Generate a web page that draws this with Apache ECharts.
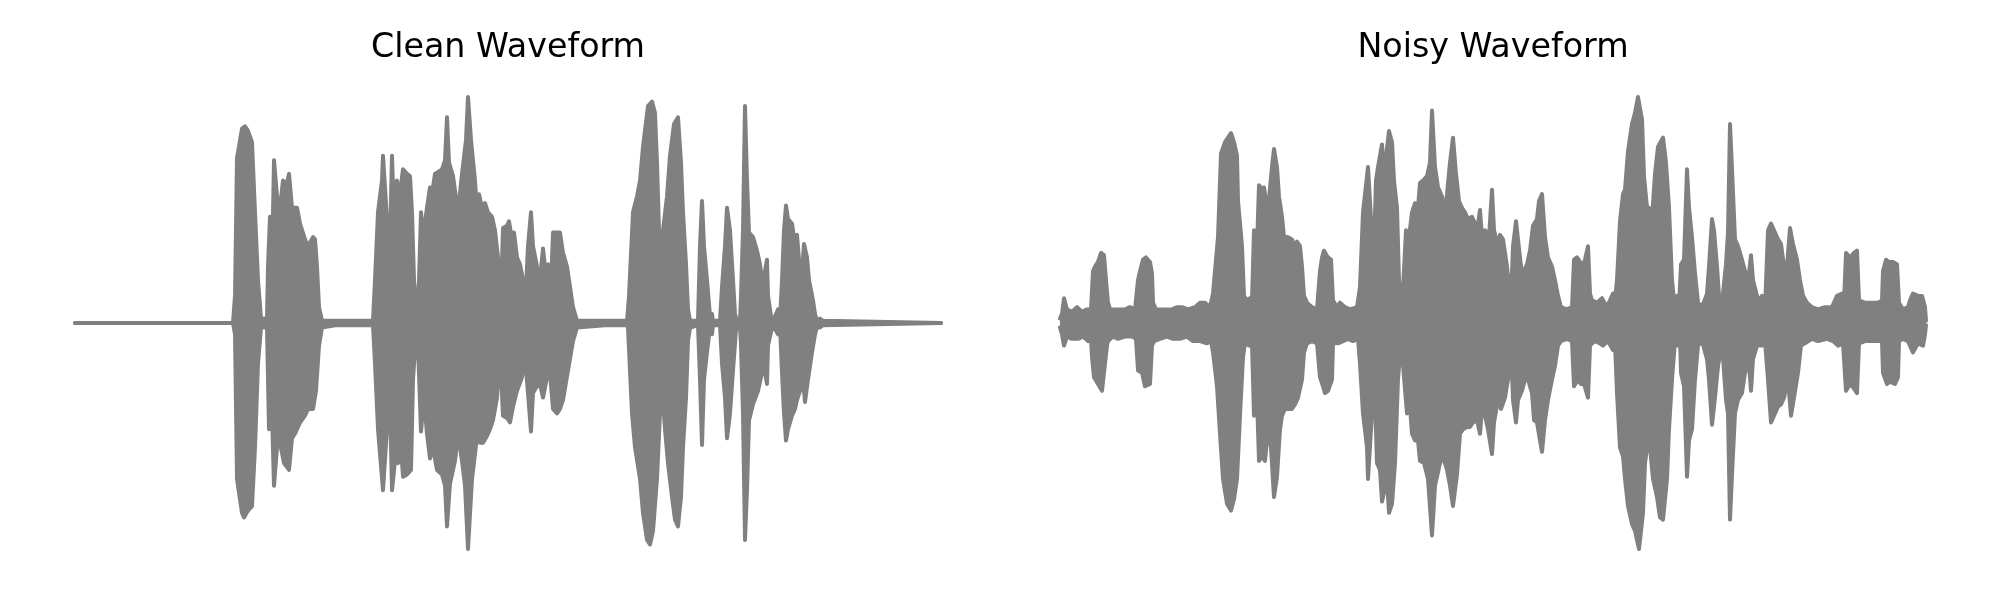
<!DOCTYPE html>
<html>
<head>
<meta charset="utf-8">
<script src="https://cdn.jsdelivr.net/npm/echarts@6/dist/echarts.min.js"></script>
<style>
html,body{margin:0;padding:0;background:#fff;}
#chart{width:2000px;height:600px;}
</style>
</head>
<body>
<div id="chart"></div>
<script>
// Envelope of each waveform: [time (s), amplitude] pairs
const titles = ['Clean Waveform', 'Noisy Waveform'];

const cleanUpper = [[0,0],[1.58,0],[1.60,0.12],[1.62,0.73],[1.67,0.86],[1.70,0.87],[1.73,0.85],[1.77,0.80],[1.80,0.49],[1.83,0.19],[1.86,0.02],[1.92,0.02],[1.93,0.25],[1.95,0.47],[1.97,0.25],[1.99,0.72],[2.02,0.56],[2.05,0.51],[2.08,0.63],[2.12,0.62],[2.14,0.66],[2.17,0.51],[2.22,0.51],[2.25,0.44],[2.30,0.37],[2.33,0.34],[2.38,0.38],[2.40,0.37],[2.42,0.25],[2.44,0.07],[2.47,0.01],[2.60,0.01],[2.80,0.01],[2.98,0.01],[3.00,0.19],[3.03,0.49],[3.07,0.63],[3.08,0.74],[3.12,0.46],[3.14,0.16],[3.17,0.74],[3.18,0.60],[3.22,0.63],[3.24,0.54],[3.28,0.68],[3.32,0.66],[3.35,0.65],[3.37,0.49],[3.39,0.19],[3.42,0.01],[3.44,0.19],[3.46,0.49],[3.48,0.38],[3.52,0.51],[3.55,0.60],[3.57,0.57],[3.60,0.66],[3.67,0.68],[3.70,0.72],[3.72,0.91],[3.74,0.71],[3.78,0.65],[3.83,0.49],[3.87,0.66],[3.91,0.81],[3.93,1.00],[3.96,0.81],[4.00,0.63],[4.02,0.50],[4.04,0.57],[4.07,0.51],[4.10,0.53],[4.13,0.49],[4.17,0.47],[4.20,0.41],[4.23,0.29],[4.26,0.13],[4.28,0.42],[4.32,0.43],[4.34,0.45],[4.37,0.37],[4.39,0.40],[4.42,0.29],[4.45,0.26],[4.48,0.19],[4.51,0.16],[4.53,0.34],[4.56,0.49],[4.58,0.34],[4.62,0.25],[4.65,0.19],[4.68,0.33],[4.70,0.25],[4.73,0.26],[4.76,0.16],[4.78,0.40],[4.82,0.40],[4.85,0.40],[4.88,0.31],[4.92,0.25],[4.95,0.16],[4.98,0.07],[5.02,0.01],[5.30,0.01],[5.52,0.01],[5.53,0.06],[5.54,0.12],[5.58,0.49],[5.62,0.56],[5.65,0.63],[5.68,0.78],[5.73,0.96],[5.77,0.98],[5.80,0.93],[5.82,0.71],[5.84,0.41],[5.87,0.28],[5.88,0.41],[5.92,0.56],[5.95,0.74],[5.99,0.88],[6.03,0.91],[6.06,0.71],[6.08,0.49],[6.11,0.26],[6.13,0.06],[6.15,0.01],[6.23,0.01],[6.25,0.34],[6.27,0.54],[6.29,0.34],[6.32,0.19],[6.35,0.03],[6.37,0.04],[6.38,0.01],[6.45,0.01],[6.47,0.16],[6.50,0.34],[6.52,0.51],[6.55,0.41],[6.58,0.19],[6.60,0.04],[6.62,0.01],[6.65,0.01],[6.66,0.12],[6.68,0.41],[6.70,0.96],[6.72,0.63],[6.74,0.40],[6.78,0.38],[6.82,0.32],[6.85,0.26],[6.88,0.16],[6.90,0.23],[6.92,0.28],[6.93,0.12],[6.96,0.03],[6.98,0.01],[7.03,0.06],[7.05,0.01],[7.07,0.19],[7.09,0.41],[7.11,0.52],[7.13,0.46],[7.17,0.44],[7.19,0.38],[7.22,0.39],[7.24,0.28],[7.27,0.22],[7.29,0.35],[7.32,0.29],[7.34,0.19],[7.38,0.10],[7.40,0.04],[7.42,0.01],[7.45,0.02],[7.48,0.01],[8.66,0]];

const cleanLower = [[0,0],[1.58,0],[1.60,-0.05],[1.62,-0.69],[1.67,-0.84],[1.69,-0.86],[1.73,-0.83],[1.77,-0.81],[1.80,-0.55],[1.83,-0.18],[1.86,-0.02],[1.92,-0.02],[1.94,-0.47],[1.97,-0.40],[1.99,-0.72],[2.02,-0.55],[2.05,-0.53],[2.09,-0.62],[2.14,-0.65],[2.17,-0.51],[2.20,-0.49],[2.25,-0.44],[2.30,-0.41],[2.33,-0.38],[2.38,-0.38],[2.41,-0.30],[2.44,-0.10],[2.47,-0.02],[2.60,-0.01],[2.80,-0.01],[2.98,-0.01],[3.00,-0.18],[3.03,-0.47],[3.08,-0.74],[3.12,-0.47],[3.14,-0.15],[3.17,-0.74],[3.20,-0.61],[3.23,-0.62],[3.26,-0.55],[3.28,-0.68],[3.32,-0.67],[3.36,-0.65],[3.38,-0.25],[3.41,-0.05],[3.43,-0.10],[3.46,-0.48],[3.49,-0.33],[3.52,-0.49],[3.55,-0.60],[3.58,-0.55],[3.62,-0.65],[3.67,-0.67],[3.70,-0.72],[3.72,-0.90],[3.75,-0.71],[3.80,-0.61],[3.83,-0.49],[3.87,-0.61],[3.90,-0.72],[3.93,-1.00],[3.97,-0.69],[4.00,-0.58],[4.02,-0.50],[4.05,-0.53],[4.08,-0.53],[4.12,-0.50],[4.15,-0.47],[4.18,-0.43],[4.22,-0.33],[4.25,-0.13],[4.28,-0.41],[4.32,-0.42],[4.35,-0.44],[4.38,-0.37],[4.42,-0.30],[4.47,-0.24],[4.50,-0.15],[4.53,-0.31],[4.56,-0.48],[4.58,-0.31],[4.62,-0.28],[4.65,-0.27],[4.68,-0.33],[4.72,-0.24],[4.75,-0.22],[4.78,-0.38],[4.82,-0.40],[4.85,-0.38],[4.88,-0.34],[4.93,-0.21],[4.98,-0.08],[5.02,-0.02],[5.30,-0.01],[5.52,-0.01],[5.53,-0.02],[5.57,-0.40],[5.60,-0.55],[5.65,-0.69],[5.68,-0.84],[5.72,-0.96],[5.75,-0.98],[5.78,-0.92],[5.82,-0.69],[5.85,-0.40],[5.87,-0.28],[5.90,-0.47],[5.93,-0.62],[5.97,-0.77],[6.00,-0.87],[6.03,-0.90],[6.06,-0.77],[6.08,-0.55],[6.11,-0.33],[6.13,-0.08],[6.15,-0.02],[6.23,-0.01],[6.25,-0.25],[6.27,-0.54],[6.29,-0.25],[6.32,-0.13],[6.35,-0.02],[6.37,-0.05],[6.38,-0.01],[6.45,-0.01],[6.47,-0.18],[6.50,-0.33],[6.52,-0.51],[6.55,-0.40],[6.58,-0.21],[6.61,-0.03],[6.65,-0.01],[6.66,-0.10],[6.68,-0.40],[6.70,-0.96],[6.72,-0.74],[6.74,-0.43],[6.78,-0.36],[6.83,-0.30],[6.87,-0.22],[6.89,-0.19],[6.92,-0.27],[6.93,-0.10],[6.97,-0.02],[6.98,-0.01],[7.03,-0.05],[7.05,-0.01],[7.07,-0.22],[7.09,-0.40],[7.11,-0.52],[7.13,-0.47],[7.17,-0.41],[7.20,-0.38],[7.22,-0.34],[7.25,-0.30],[7.28,-0.25],[7.30,-0.35],[7.33,-0.25],[7.37,-0.13],[7.40,-0.05],[7.42,-0.02],[7.45,-0.02],[7.48,-0.01],[8.66,0]];

const noisyUpper = [[0,0.02],[0.02,0.04],[0.04,0.11],[0.07,0.06],[0.12,0.05],[0.17,0.07],[0.22,0.05],[0.27,0.06],[0.31,0.06],[0.33,0.23],[0.35,0.25],[0.38,0.27],[0.41,0.31],[0.44,0.30],[0.46,0.19],[0.48,0.09],[0.50,0.06],[0.55,0.06],[0.60,0.06],[0.65,0.06],[0.70,0.07],[0.75,0.06],[0.78,0.19],[0.80,0.23],[0.83,0.28],[0.86,0.29],[0.90,0.27],[0.92,0.22],[0.93,0.09],[0.96,0.06],[1.00,0.06],[1.05,0.06],[1.12,0.06],[1.17,0.07],[1.22,0.07],[1.28,0.06],[1.35,0.07],[1.40,0.09],[1.45,0.09],[1.50,0.07],[1.53,0.13],[1.56,0.28],[1.58,0.38],[1.61,0.75],[1.65,0.80],[1.68,0.82],[1.71,0.84],[1.74,0.80],[1.77,0.74],[1.78,0.54],[1.82,0.34],[1.84,0.12],[1.87,0.10],[1.90,0.11],[1.92,0.10],[1.94,0.41],[1.97,0.34],[1.99,0.61],[2.02,0.59],[2.04,0.60],[2.07,0.51],[2.09,0.55],[2.12,0.69],[2.14,0.77],[2.17,0.69],[2.19,0.56],[2.22,0.47],[2.24,0.38],[2.28,0.38],[2.32,0.37],[2.34,0.34],[2.37,0.36],[2.40,0.34],[2.42,0.25],[2.44,0.12],[2.47,0.09],[2.52,0.07],[2.57,0.06],[2.60,0.23],[2.62,0.29],[2.64,0.32],[2.68,0.29],[2.71,0.28],[2.73,0.10],[2.77,0.07],[2.80,0.09],[2.85,0.07],[2.90,0.06],[2.97,0.07],[3.00,0.16],[3.03,0.49],[3.07,0.65],[3.08,0.69],[3.11,0.46],[3.13,0.19],[3.16,0.63],[3.18,0.69],[3.22,0.79],[3.24,0.66],[3.29,0.85],[3.32,0.80],[3.34,0.63],[3.37,0.51],[3.39,0.19],[3.42,0.06],[3.43,0.06],[3.46,0.41],[3.48,0.34],[3.52,0.49],[3.55,0.53],[3.58,0.51],[3.60,0.62],[3.63,0.63],[3.67,0.65],[3.70,0.71],[3.72,0.94],[3.75,0.69],[3.78,0.60],[3.82,0.56],[3.84,0.47],[3.87,0.57],[3.90,0.71],[3.93,0.82],[3.96,0.66],[3.99,0.54],[4.02,0.51],[4.05,0.49],[4.08,0.46],[4.12,0.47],[4.15,0.44],[4.18,0.44],[4.20,0.50],[4.22,0.38],[4.25,0.41],[4.29,0.38],[4.32,0.59],[4.34,0.41],[4.38,0.34],[4.40,0.39],[4.43,0.37],[4.47,0.25],[4.49,0.16],[4.52,0.22],[4.53,0.34],[4.56,0.45],[4.58,0.37],[4.61,0.25],[4.63,0.22],[4.67,0.26],[4.70,0.32],[4.73,0.43],[4.77,0.46],[4.79,0.54],[4.82,0.57],[4.85,0.38],[4.88,0.29],[4.92,0.25],[4.95,0.19],[4.98,0.12],[5.01,0.07],[5.07,0.06],[5.12,0.07],[5.14,0.28],[5.17,0.29],[5.20,0.27],[5.22,0.25],[5.25,0.28],[5.28,0.34],[5.30,0.13],[5.32,0.10],[5.37,0.09],[5.42,0.11],[5.47,0.07],[5.50,0.10],[5.53,0.13],[5.55,0.10],[5.57,0.19],[5.60,0.45],[5.63,0.57],[5.65,0.59],[5.68,0.76],[5.72,0.88],[5.75,0.93],[5.78,1.00],[5.82,0.90],[5.84,0.65],[5.87,0.51],[5.88,0.40],[5.89,0.51],[5.92,0.46],[5.95,0.66],[5.98,0.78],[6.03,0.82],[6.06,0.71],[6.09,0.51],[6.12,0.19],[6.14,0.10],[6.17,0.12],[6.19,0.07],[6.21,0.26],[6.24,0.28],[6.27,0.68],[6.29,0.51],[6.32,0.38],[6.35,0.22],[6.38,0.09],[6.42,0.07],[6.47,0.13],[6.49,0.25],[6.52,0.46],[6.54,0.41],[6.57,0.25],[6.59,0.12],[6.62,0.09],[6.66,0.26],[6.68,0.40],[6.70,0.88],[6.72,0.68],[6.75,0.37],[6.78,0.34],[6.82,0.28],[6.85,0.23],[6.88,0.18],[6.91,0.30],[6.93,0.19],[6.97,0.12],[7.00,0.10],[7.02,0.12],[7.05,0.06],[7.08,0.41],[7.11,0.44],[7.14,0.41],[7.18,0.37],[7.21,0.35],[7.24,0.25],[7.27,0.25],[7.30,0.42],[7.33,0.35],[7.37,0.28],[7.40,0.19],[7.43,0.12],[7.47,0.09],[7.52,0.07],[7.58,0.06],[7.65,0.07],[7.72,0.07],[7.77,0.12],[7.82,0.13],[7.84,0.09],[7.86,0.31],[7.90,0.29],[7.94,0.31],[7.97,0.32],[7.99,0.10],[8.05,0.09],[8.12,0.09],[8.18,0.09],[8.22,0.10],[8.23,0.23],[8.26,0.28],[8.29,0.27],[8.33,0.27],[8.37,0.26],[8.39,0.09],[8.43,0.06],[8.48,0.07],[8.50,0.10],[8.53,0.13],[8.58,0.12],[8.62,0.12],[8.65,0.07],[8.66,0.01]];

const noisyLower = [[0,-0.02],[0.02,-0.05],[0.04,-0.10],[0.07,-0.06],[0.12,-0.07],[0.18,-0.07],[0.23,-0.06],[0.28,-0.08],[0.31,-0.07],[0.32,-0.15],[0.34,-0.24],[0.38,-0.27],[0.42,-0.30],[0.44,-0.30],[0.47,-0.10],[0.48,-0.08],[0.53,-0.06],[0.58,-0.07],[0.65,-0.06],[0.72,-0.06],[0.76,-0.07],[0.78,-0.21],[0.82,-0.22],[0.85,-0.28],[0.90,-0.27],[0.92,-0.10],[0.94,-0.08],[1.00,-0.07],[1.07,-0.06],[1.13,-0.07],[1.20,-0.07],[1.27,-0.06],[1.33,-0.08],[1.40,-0.08],[1.47,-0.09],[1.51,-0.08],[1.53,-0.13],[1.57,-0.28],[1.60,-0.49],[1.63,-0.69],[1.67,-0.80],[1.71,-0.83],[1.74,-0.78],[1.77,-0.69],[1.80,-0.41],[1.83,-0.15],[1.85,-0.09],[1.89,-0.10],[1.92,-0.09],[1.94,-0.41],[1.97,-0.33],[1.99,-0.61],[2.02,-0.59],[2.05,-0.61],[2.08,-0.47],[2.11,-0.55],[2.14,-0.77],[2.17,-0.68],[2.20,-0.47],[2.22,-0.41],[2.25,-0.38],[2.28,-0.38],[2.32,-0.38],[2.35,-0.36],[2.38,-0.33],[2.42,-0.25],[2.44,-0.13],[2.47,-0.09],[2.52,-0.08],[2.57,-0.09],[2.60,-0.24],[2.63,-0.28],[2.65,-0.31],[2.68,-0.30],[2.72,-0.25],[2.73,-0.09],[2.78,-0.09],[2.83,-0.08],[2.88,-0.07],[2.93,-0.08],[2.98,-0.07],[3.00,-0.18],[3.03,-0.40],[3.07,-0.55],[3.08,-0.69],[3.12,-0.40],[3.14,-0.19],[3.17,-0.62],[3.20,-0.65],[3.22,-0.79],[3.27,-0.69],[3.29,-0.84],[3.32,-0.80],[3.35,-0.62],[3.38,-0.25],[3.41,-0.08],[3.43,-0.08],[3.47,-0.40],[3.49,-0.31],[3.52,-0.49],[3.55,-0.52],[3.58,-0.52],[3.60,-0.61],[3.64,-0.62],[3.68,-0.69],[3.72,-0.94],[3.75,-0.72],[3.80,-0.62],[3.83,-0.59],[3.87,-0.65],[3.90,-0.72],[3.93,-0.81],[3.97,-0.67],[4.00,-0.49],[4.03,-0.47],[4.07,-0.46],[4.10,-0.46],[4.13,-0.44],[4.17,-0.43],[4.20,-0.49],[4.22,-0.38],[4.25,-0.41],[4.28,-0.47],[4.32,-0.58],[4.34,-0.44],[4.38,-0.34],[4.41,-0.38],[4.45,-0.33],[4.48,-0.25],[4.52,-0.22],[4.53,-0.34],[4.56,-0.44],[4.58,-0.34],[4.62,-0.30],[4.65,-0.25],[4.68,-0.25],[4.72,-0.31],[4.74,-0.43],[4.77,-0.44],[4.80,-0.52],[4.82,-0.57],[4.85,-0.43],[4.88,-0.34],[4.92,-0.25],[4.95,-0.19],[4.98,-0.10],[5.01,-0.08],[5.07,-0.07],[5.12,-0.08],[5.14,-0.28],[5.18,-0.25],[5.21,-0.27],[5.24,-0.27],[5.28,-0.33],[5.30,-0.10],[5.32,-0.09],[5.35,-0.08],[5.40,-0.09],[5.43,-0.10],[5.48,-0.08],[5.50,-0.08],[5.53,-0.12],[5.55,-0.09],[5.57,-0.31],[5.60,-0.55],[5.63,-0.59],[5.65,-0.69],[5.68,-0.81],[5.72,-0.89],[5.75,-0.92],[5.79,-1.00],[5.83,-0.84],[5.85,-0.62],[5.88,-0.52],[5.90,-0.55],[5.93,-0.69],[5.97,-0.77],[6.00,-0.86],[6.03,-0.87],[6.07,-0.69],[6.09,-0.47],[6.12,-0.25],[6.15,-0.08],[6.18,-0.10],[6.20,-0.06],[6.21,-0.22],[6.24,-0.28],[6.27,-0.68],[6.29,-0.52],[6.32,-0.47],[6.35,-0.25],[6.38,-0.10],[6.42,-0.08],[6.47,-0.16],[6.49,-0.25],[6.52,-0.45],[6.55,-0.33],[6.58,-0.19],[6.62,-0.09],[6.66,-0.34],[6.68,-0.40],[6.70,-0.87],[6.72,-0.67],[6.75,-0.40],[6.78,-0.34],[6.82,-0.31],[6.85,-0.22],[6.89,-0.18],[6.91,-0.30],[6.93,-0.16],[6.97,-0.10],[7.02,-0.10],[7.05,-0.08],[7.08,-0.25],[7.11,-0.44],[7.14,-0.41],[7.18,-0.37],[7.21,-0.36],[7.24,-0.33],[7.28,-0.25],[7.31,-0.41],[7.34,-0.33],[7.38,-0.22],[7.41,-0.10],[7.45,-0.09],[7.52,-0.07],[7.58,-0.08],[7.67,-0.07],[7.73,-0.08],[7.78,-0.10],[7.83,-0.09],[7.86,-0.30],[7.90,-0.27],[7.94,-0.29],[7.97,-0.31],[7.99,-0.09],[8.05,-0.08],[8.12,-0.08],[8.18,-0.08],[8.22,-0.08],[8.23,-0.22],[8.27,-0.27],[8.30,-0.26],[8.35,-0.27],[8.38,-0.24],[8.39,-0.08],[8.43,-0.07],[8.48,-0.08],[8.50,-0.10],[8.53,-0.13],[8.58,-0.09],[8.63,-0.10],[8.65,-0.05],[8.66,-0.01]];

const duration = 8.66;
const ampLimit = 1.1;
const waveColor = '#808080';

const chart = echarts.init(document.getElementById('chart'), null, {renderer: 'canvas'});

function wave(data, gi) {
  return {
    type: 'line', xAxisIndex: gi, yAxisIndex: gi, data: data,
    showSymbol: false, symbol: 'none', smooth: false, animation: false,
    lineStyle: {color: waveColor, width: 4, join: 'round', cap: 'round'},
    areaStyle: {color: waveColor, opacity: 1},
    silent: true
  };
}

const grids = [
  {left: 75, width: 866, top: 74.4, height: 497.2},
  {left: 1060, width: 866, top: 74.4, height: 497.2}
];

chart.setOption({
  backgroundColor: '#ffffff',
  animation: false,
  grid: grids,
  xAxis: grids.map((g, i) => ({type: 'value', gridIndex: i, min: 0, max: duration, show: false})),
  yAxis: grids.map((g, i) => ({type: 'value', gridIndex: i, min: -ampLimit, max: ampLimit, show: false})),
  graphic: titles.map((t, i) => ({
    type: 'text', x: grids[i].left + grids[i].width / 2, y: 48.5,
    style: {text: t, fill: '#000000', font: '33.3px "DejaVu Sans"', textAlign: 'center', textVerticalAlign: 'middle'}
  })),
  series: [
    wave(cleanUpper, 0), wave(cleanLower, 0),
    wave(noisyUpper, 1), wave(noisyLower, 1)
  ]
});
</script>
</body>
</html>
